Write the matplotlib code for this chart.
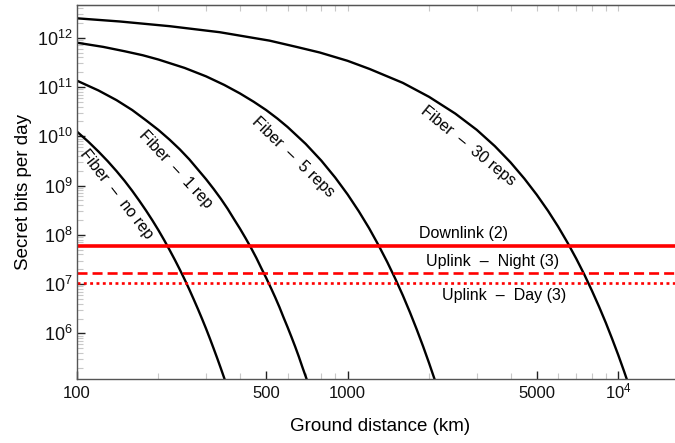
import matplotlib.pyplot as plt
from matplotlib.ticker import FixedLocator, FixedFormatter, LogLocator, NullFormatter

plt.rcParams['font.family'] = ['Liberation Sans', 'DejaVu Sans']
plt.rcParams['mathtext.fontset'] = 'custom'
plt.rcParams['mathtext.rm'] = 'Liberation Sans'
plt.rcParams['mathtext.it'] = 'Liberation Sans:italic'
plt.rcParams['mathtext.bf'] = 'Liberation Sans:bold'

# ---- data (km, secret bits per day) ----
dist_norep = [100, 110, 120, 130, 140, 150, 160, 170, 180, 190, 200, 210, 220, 230,
              240, 250, 260, 270, 280, 290, 300, 310, 320, 330, 340, 350, 360]
rate_norep = [1.24e10, 7.8e9, 4.9e9, 3.1e9, 1.96e9, 1.24e9, 7.8e8, 4.9e8, 3.1e8,
              1.96e8, 1.24e8, 7.8e7, 4.9e7, 3.1e7, 1.96e7, 1.24e7, 7.8e6, 4.9e6,
              3.1e6, 1.96e6, 1.24e6, 7.8e5, 4.9e5, 3.1e5, 1.96e5, 1.24e5, 7.8e4]

dist_1rep = [100, 120, 140, 160, 180, 200, 220, 240, 260, 280, 300, 320, 340, 360,
             380, 400, 420, 440, 460, 480, 500, 520, 540, 560, 580, 600, 620, 640,
             660, 680, 700, 720]
rate_1rep = [1.34e11, 8.5e10, 5.4e10, 3.4e10, 2.1e10, 1.34e10, 8.5e9, 5.4e9, 3.4e9,
             2.1e9, 1.34e9, 8.5e8, 5.4e8, 3.4e8, 2.1e8, 1.34e8, 8.5e7, 5.4e7, 3.4e7,
             2.1e7, 1.34e7, 8.5e6, 5.4e6, 3.4e6, 2.1e6, 1.34e6, 8.5e5, 5.4e5, 3.4e5,
             2.1e5, 1.34e5, 8.5e4]

dist_5rep = [100, 125, 150, 175, 200, 250, 300, 350, 400, 450, 500, 550, 600, 700,
             800, 900, 1000, 1100, 1200, 1300, 1400, 1500, 1600, 1700, 1800, 1900,
             2000, 2100, 2200]
rate_5rep = [7.9e11, 6.5e11, 5.3e11, 4.4e11, 3.6e11, 2.43e11, 1.64e11, 1.10e11,
             7.4e10, 5.0e10, 3.4e10, 2.29e10, 1.54e10, 7.0e9, 3.19e9, 1.45e9, 6.6e8,
             3.0e8, 1.37e8, 6.2e7, 2.83e7, 1.29e7, 5.9e6, 2.67e6, 1.21e6, 5.5e5,
             2.5e5, 1.14e5, 5.2e4]

dist_30rep = [100, 144, 220, 337, 515, 650, 789, 1000, 1205, 1600, 2000, 2500, 3000,
              3500, 4000, 4500, 5000, 5500, 6000, 6500, 7000, 7500, 8000, 8500,
              9000, 9500, 10000, 10500, 11000]
rate_30rep = [2.47e12, 2.13e12, 1.71e12, 1.29e12, 8.7e11, 6.46e11, 5.0e11, 3.39e11,
              2.32e11, 1.21e11, 6.3e10, 2.88e10, 1.35e10, 6.3e9, 2.95e9, 1.38e9,
              6.5e8, 3.08e8, 1.46e8, 6.9e7, 3.27e7, 1.55e7, 7.3e6, 3.46e6, 1.64e6,
              7.7e5, 3.66e5, 1.73e5, 8.2e4]

downlink = 6.0e7
uplink_night = 1.7e7
uplink_day = 1.07e7

x_ticks = [100, 500, 1000, 5000, 10000]
x_labels = ['100', '500', '1000', '5000', r'$10^4$']

# ---- figure ----
fig = plt.figure(figsize=(6.75, 4.43), dpi=100)
ax = fig.add_axes([77 / 675, 64 / 443, 607 / 675, 374 / 443])
ax.set_xscale('log')
ax.set_yscale('log')

for d, r in [(dist_norep, rate_norep), (dist_1rep, rate_1rep),
             (dist_5rep, rate_5rep), (dist_30rep, rate_30rep)]:
    ax.plot(d, r, color='black', lw=1.7, solid_capstyle='butt', solid_joinstyle='round')

ax.axhline(downlink, color='#ff0000', lw=2.6)
ax.axhline(uplink_night, color='#ff0000', lw=1.9, linestyle=(0, (3.8, 1.9)))
ax.axhline(uplink_day, color='#ff0000', lw=1.9, linestyle=(0, (1.1, 1.3)))

ax.set_xlim(100, 17500)
ax.set_ylim(1.19e5, 4.6e12)

ax.xaxis.set_major_locator(FixedLocator(x_ticks))
ax.xaxis.set_major_formatter(FixedFormatter(x_labels))
ax.xaxis.set_minor_locator(LogLocator(base=10, subs=range(2, 10), numticks=50))
ax.xaxis.set_minor_formatter(NullFormatter())
ax.yaxis.set_major_locator(LogLocator(base=10, numticks=20))
ax.yaxis.set_minor_locator(LogLocator(base=10, subs=range(2, 10), numticks=100))
ax.yaxis.set_minor_formatter(NullFormatter())

ax.tick_params(which='major', direction='in', length=6, width=1, color='#222222',
               labelcolor='#111111', top=False, right=False)
ax.tick_params(axis='x', which='major', pad=14, labelsize=12)
ax.tick_params(axis='y', which='major', pad=3, labelsize=13)
ax.tick_params(which='minor', direction='in', length=4, width=0.8, color='#c8c8c8',
               top=False, right=False)
# keep 10^4 on the same baseline as the plain numbers
plt.setp(ax.get_xticklabels(), va='baseline')

top = ax.secondary_xaxis('top')
top.xaxis.set_major_locator(FixedLocator(x_ticks))
top.xaxis.set_minor_locator(LogLocator(base=10, subs=range(2, 10), numticks=50))
top.xaxis.set_major_formatter(NullFormatter())
top.xaxis.set_minor_formatter(NullFormatter())
top.tick_params(which='both', direction='in', length=4, width=0.8, color='#c8c8c8')
top.spines['top'].set_color('#555555')

for s in ['left', 'bottom', 'top']:
    ax.spines[s].set_color('#555555')
    ax.spines[s].set_linewidth(1.0)
ax.spines['right'].set_visible(False)

ax.set_xlabel('Ground distance (km)', fontsize=13.5, labelpad=12)
ax.set_ylabel('Secret bits per day', fontsize=13.5, labelpad=4)

lab = dict(ha='center', va='center', fontsize=11.5, rotation_mode='anchor')
ax.text(140, 6.5e8, 'Fiber  –  no rep', rotation=-52, **lab)
ax.text(231, 2.1e9, 'Fiber  –  1 rep', rotation=-47, **lab)
ax.text(628, 3.75e9, 'Fiber  –  5 reps', rotation=-44, **lab)
ax.text(2780, 6.5e9, 'Fiber  –  30 reps', rotation=-39, **lab)
ax.text(2685, 1.08e8, 'Downlink (2)', **lab)
ax.text(3420, 2.86e7, 'Uplink  –  Night (3)', **lab)
ax.text(3795, 5.75e6, 'Uplink  –  Day (3)', **lab)

fig.savefig('out.png', dpi=100)
